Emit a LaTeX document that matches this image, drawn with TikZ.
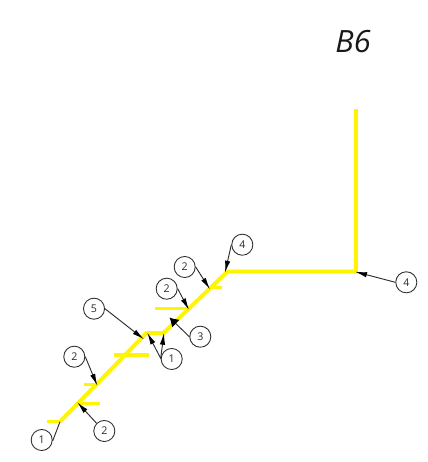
\documentclass[tikz,border=0pt]{standalone}
\usepackage{fontspec}
\setmainfont{Open Sans}
\usetikzlibrary{arrows.meta}
\definecolor{pipeyellow}{RGB}{255,245,0}
\definecolor{leadgray}{RGB}{45,45,45}
\tikzset{
  pipe/.style={draw=pipeyellow,line width=3pt,line cap=butt,line join=miter},
  stub/.style={draw=pipeyellow,line width=2.6pt},
  tag/.style={circle,draw=leadgray,line width=0.65pt,minimum size=15.8pt,inner sep=0pt,text=leadgray,font=\fontsize{8}{9}\selectfont},
  leader/.style={draw=leadgray,line width=0.7pt},
  leadarrow/.style={leader,-{Latex[length=9pt,width=4pt,black]}},
  fatarrow/.style={leader,-{Latex[length=6.5pt,width=8pt,black]}},
}
\begin{document}
\begin{tikzpicture}[x=0.75pt,y=-0.75pt]
\useasboundingbox (0,0) rectangle (428,462);
\fill[white] (0,0) rectangle (428,462);
% pipes
\coordinate (top) at (356,109);
\coordinate (corner) at (356,271.5);
\coordinate (bendA) at (227.5,271.5);
\coordinate (jogA) at (163.5,333);
\coordinate (jogB) at (146.5,333);
\coordinate (low) at (60,421.7);
\draw[pipe] (top) -- (corner) -- (bendA) -- (jogA) -- (jogB) -- (low);
\coordinate (s1a) at (47.3,421.7); \draw[stub] (s1a) -- (low);
\coordinate (s2a) at (77.3,403.3); \coordinate (s2b) at (100.5,403.3); \draw[stub] (s2a) -- (s2b);
\coordinate (s3a) at (84.5,384.3); \coordinate (s3b) at (97.3,384.3); \draw[stub] (s3a) -- (s3b);
\coordinate (s4a) at (114.5,355); \coordinate (s4b) at (149.5,355); \draw[stub] (s4a) -- (s4b);
\coordinate (s5a) at (155,308.7); \coordinate (s5b) at (189.3,308.7); \draw[stub] (s5a) -- (s5b);
\coordinate (s6a) at (210,287.7); \coordinate (s6b) at (222,287.7); \draw[stub] (s6a) -- (s6b);
% tags
\node[tag] (t1) at (41.7,440) {1};
\node[tag] (t2) at (104.3,431) {2};
\node[tag] (t3) at (74.3,356.7) {2};
\node[tag] (t4) at (94,308.7) {5};
\node[tag] (t5) at (171.7,359) {1};
\node[tag] (t6) at (200.3,336.7) {3};
\node[tag] (t7) at (166.7,288.7) {2};
\node[tag] (t8) at (184.7,267) {2};
\node[tag] (t9) at (242.3,244.7) {4};
\node[tag] (t10) at (406.3,282.3) {4};
% leaders
\coordinate (a2) at (77.3,402.3);
\coordinate (a3) at (97.3,385.7);
\coordinate (a4) at (144,339.3);
\coordinate (a5a) at (147.3,332.7);
\coordinate (a5b) at (164,332.7);
\coordinate (a6) at (169.5,317.5);
\coordinate (a7) at (189,310);
\coordinate (a8) at (210,289.3);
\coordinate (a9) at (225,272.7);
\coordinate (a10) at (355,271.7);
\coordinate (l5) at (160.7,358.3);
\draw[leader] (t1.east) ++(0,1) -- (low);
\draw[leadarrow] (t2.north west) -- (a2);
\draw[leadarrow] (t3.east) -- (a3);
\draw[leadarrow] (t4.east) -- (a4);
\draw[leader] (t5.west) -- (l5);
\draw[leadarrow] (l5) -- (a5a);
\draw[leadarrow] (l5) -- (a5b);
\draw[fatarrow] (t6.west) -- (a6);
\draw[leadarrow] (t7.east) -- (a7);
\draw[leadarrow] (t8.east) -- (a8);
\draw[leadarrow] (t9.west) -- (a9);
\draw[leadarrow] (t10.west) -- (a10);
\node[font=\fontsize{23}{25}\selectfont\itshape,inner sep=0pt,text=black!90] (title) at (353,41.5) {B6};
\end{tikzpicture}
\end{document}
